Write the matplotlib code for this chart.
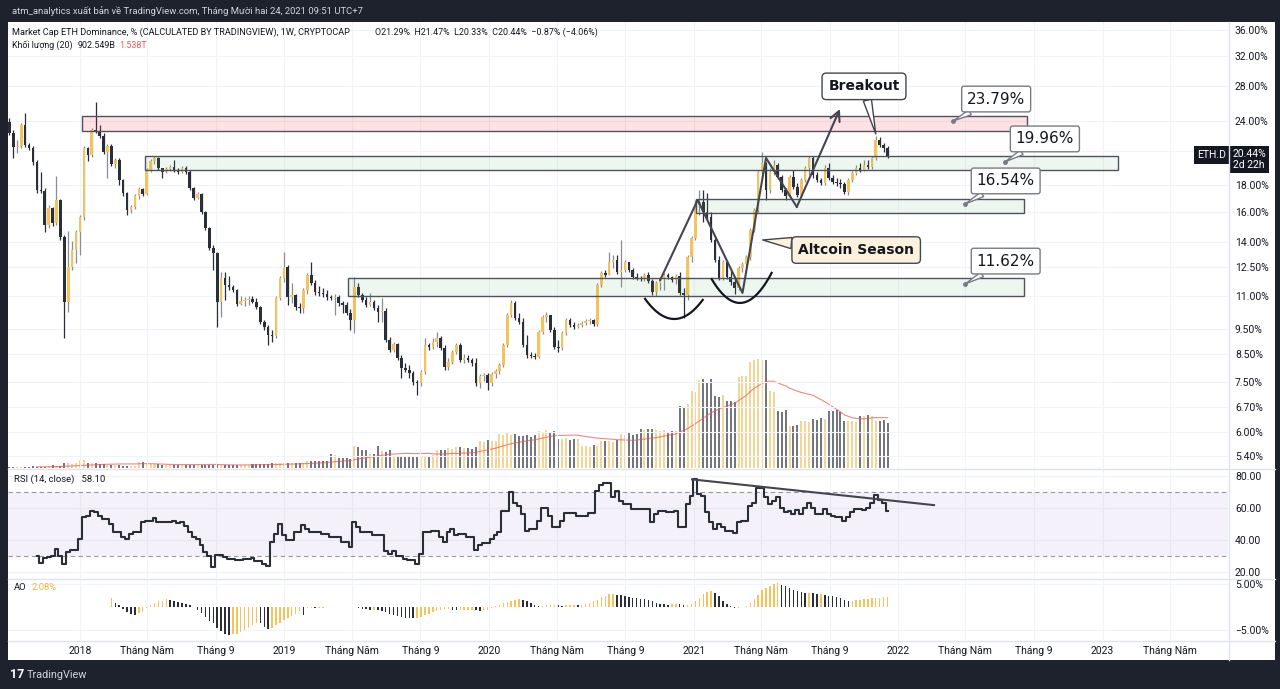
import matplotlib
matplotlib.use('Agg')
import matplotlib.pyplot as plt
import matplotlib.dates as mdates
import matplotlib.transforms as mtransforms
from matplotlib.patches import Rectangle
from matplotlib.lines import Line2D
import numpy as np
import pandas as pd

# ---------------- data (weekly ETH dominance, %) ----------------
first_week = '2017-08-28'
first_open = 23.89
closes = [
    22.75, 21.37, 21.47, 23.58, 21.57, 21.27, 19.99, 17.64, 17.56, 15.10,
    16.29, 15.23, 16.87, 14.31, 10.71, 12.52, 13.50, 14.63, 15.64, 21.27,
    20.63, 23.05, 22.95, 22.45, 20.90, 21.47, 19.82, 20.17, 18.45, 17.41,
    16.14, 16.36, 17.18, 17.72, 17.33, 19.29, 20.08, 20.35, 19.47, 19.12,
    19.38, 19.56, 19.29, 19.12, 19.47, 19.12, 17.80, 17.03, 17.33, 16.00,
    14.89, 13.62, 13.32, 10.71, 11.92, 11.56, 11.45, 11.30, 10.62, 10.76,
    10.81, 10.86, 10.71, 10.47, 9.79, 9.58, 9.25, 9.21, 10.91, 11.92,
    12.52, 10.96, 11.05, 10.47, 10.42, 11.30, 12.08, 11.66, 11.20, 11.15,
    11.10, 10.96, 10.91, 10.96, 10.67, 10.57, 10.20, 9.88, 11.45, 11.05,
    10.81, 10.57, 10.71, 10.42, 10.24, 10.29, 9.04, 8.65, 8.88, 8.35,
    7.98, 7.91, 7.81, 7.50, 7.47, 7.84, 8.85, 8.77, 8.96, 9.12,
    8.73, 8.02, 8.20, 8.57, 8.85, 8.27, 8.35, 8.27, 8.16, 7.47,
    7.71, 7.74, 7.47, 7.77, 7.88, 8.09, 8.85, 10.11, 10.67, 9.97,
    9.79, 8.85, 8.46, 8.42, 8.39, 9.37, 10.02, 10.11, 9.45, 8.77,
    8.73, 9.33, 9.88, 9.67, 9.58, 9.67, 9.75, 9.84, 9.88, 9.71,
    11.56, 12.19, 12.08, 12.80, 12.91, 12.24, 12.35, 12.80, 12.35, 11.97,
    11.92, 11.86, 12.08, 11.76, 11.20, 11.66, 11.86, 12.08, 11.97, 11.81,
    12.03, 11.15, 11.05, 13.09, 14.25, 16.51, 16.72, 16.00, 15.64, 14.12,
    12.91, 11.92, 12.80, 11.97, 11.71, 11.40, 12.46, 12.69, 13.09, 14.76,
    16.14, 19.12, 19.91, 17.64, 19.12, 19.73, 18.70, 17.64, 17.18, 18.70,
    17.88, 17.26, 18.45, 19.47, 20.35, 18.87, 18.45, 18.20, 19.47, 18.62,
    18.29, 18.20, 18.12, 17.49, 18.45, 19.04, 19.47, 19.29, 19.73, 19.56,
    20.35, 22.05, 21.57, 21.29, 20.44,
]
highs = [
    24.32, 23.05, 22.05, 23.79, 24.87, 21.76, 21.47, 20.17, 19.12, 17.80,
    16.51, 16.36, 18.79, 16.95, 14.44, 14.70, 14.06, 14.76, 15.79, 21.47,
    21.37, 23.26, 26.12, 23.58, 22.75, 21.66, 21.66, 20.35, 20.35, 18.53,
    17.49, 16.51, 17.33, 17.88, 17.80, 19.47, 20.26, 20.53, 20.44, 19.47,
    19.56, 19.73, 20.17, 19.47, 19.64, 19.64, 19.29, 17.88, 17.49, 17.41,
    16.07, 14.96, 13.81, 13.38, 12.24, 12.24, 12.03, 11.56, 11.35, 11.00,
    10.96, 11.00, 11.00, 10.91, 10.52, 9.88, 9.67, 9.45, 11.00, 12.03,
    13.38, 12.63, 11.66, 11.10, 10.67, 11.40, 12.19, 12.80, 11.81, 11.50,
    11.40, 11.30, 11.05, 11.10, 11.05, 10.76, 10.71, 10.38, 11.97, 11.66,
    11.15, 10.96, 11.15, 10.81, 10.57, 10.91, 10.42, 9.16, 8.96, 8.92,
    8.46, 8.16, 8.09, 7.88, 7.57, 7.91, 9.12, 8.92, 9.12, 9.37,
    9.20, 8.85, 8.35, 8.65, 8.92, 8.92, 8.50, 8.46, 8.35, 8.35,
    7.77, 7.81, 7.81, 7.84, 7.95, 8.16, 8.92, 10.20, 10.81, 10.76,
    10.20, 9.97, 9.25, 8.57, 8.54, 9.45, 10.11, 10.24, 10.11, 9.58,
    9.04, 9.41, 9.97, 9.97, 9.79, 9.75, 9.84, 9.93, 9.97, 9.93,
    11.66, 12.30, 12.35, 13.38, 13.21, 13.21, 14.12, 12.91, 12.69, 12.46,
    12.19, 12.03, 12.19, 12.24, 11.86, 11.76, 11.97, 12.19, 12.19, 12.03,
    12.13, 12.24, 11.40, 13.21, 14.38, 16.87, 17.64, 17.64, 17.41, 16.00,
    14.25, 13.15, 12.91, 12.86, 12.30, 11.92, 12.57, 12.80, 13.21, 14.89,
    16.29, 19.29, 20.90, 19.99, 19.47, 20.17, 19.91, 18.87, 17.80, 18.87,
    19.29, 18.20, 18.62, 19.64, 20.53, 20.53, 19.12, 18.62, 19.73, 19.91,
    18.87, 18.62, 18.53, 18.29, 18.62, 19.21, 19.73, 19.91, 20.17, 20.17,
    20.53, 22.45, 22.35, 21.76, 21.47,
]
lows = [
    22.55, 20.35, 20.81, 21.27, 21.37, 21.08, 19.73, 17.41, 17.41, 14.63,
    14.89, 15.03, 15.10, 14.12, 9.12, 10.24, 12.35, 12.74, 13.21, 15.43,
    20.08, 20.44, 22.75, 22.25, 20.72, 18.62, 19.64, 19.47, 18.04, 17.18,
    15.79, 15.93, 16.22, 16.95, 17.18, 17.26, 19.12, 19.82, 19.29, 18.62,
    19.04, 19.21, 19.12, 18.95, 19.04, 18.95, 17.64, 16.87, 16.95, 15.86,
    14.76, 13.50, 12.35, 9.58, 10.02, 10.81, 11.30, 11.20, 10.52, 10.57,
    10.52, 10.57, 10.67, 10.38, 9.71, 9.45, 8.85, 8.96, 9.12, 10.81,
    11.71, 10.57, 10.67, 10.33, 10.20, 10.20, 11.10, 11.56, 11.05, 11.00,
    10.96, 10.81, 10.81, 10.11, 10.52, 10.20, 10.11, 9.45, 9.33, 10.96,
    10.71, 10.47, 10.52, 10.33, 9.79, 9.79, 8.96, 8.57, 8.57, 8.27,
    7.64, 7.84, 7.64, 7.40, 7.08, 7.37, 7.77, 8.65, 8.69, 8.77,
    8.65, 7.91, 7.91, 8.13, 8.50, 8.20, 8.16, 8.20, 8.05, 7.37,
    7.31, 7.54, 7.24, 7.37, 7.64, 7.77, 8.02, 8.77, 10.02, 9.88,
    9.71, 8.77, 8.35, 8.35, 8.31, 8.35, 9.29, 9.79, 9.37, 8.69,
    8.57, 8.65, 9.25, 9.58, 9.49, 9.54, 9.58, 9.67, 9.71, 9.62,
    9.62, 11.45, 11.97, 12.08, 12.46, 12.13, 11.45, 12.24, 12.24, 11.86,
    11.81, 11.76, 11.76, 11.66, 11.05, 11.00, 11.30, 11.30, 11.86, 11.71,
    11.61, 11.05, 9.97, 10.81, 12.80, 14.12, 15.79, 15.30, 15.43, 14.00,
    12.80, 11.81, 11.81, 11.86, 11.56, 11.10, 11.30, 12.24, 12.46, 12.91,
    14.63, 16.00, 18.95, 16.87, 17.41, 18.87, 18.53, 17.49, 16.87, 17.03,
    17.72, 17.10, 17.10, 18.29, 18.87, 18.62, 18.29, 18.04, 18.04, 18.45,
    18.12, 17.96, 17.80, 17.33, 17.26, 18.29, 18.87, 19.12, 19.21, 19.38,
    19.38, 20.17, 21.37, 20.90, 20.33,
]
# volume, billions
volume_b = [
    35, 40, 30, 45, 38, 42, 50, 36, 44, 40, 55,
    95, 60, 70,
    150, 170, 140, 175,
    250, 270,
    180, 150, 165, 140,
    120, 105, 110, 95, 100,
    70, 65, 75, 80,
    190, 210, 170,
    130, 120, 135,
    95, 100, 90, 105, 100, 85, 95, 100, 110, 100, 95, 105, 110, 115,
    120, 100, 95, 105, 100, 95, 100, 90, 105,
    125, 130, 135, 120, 140,
    160, 170, 180, 165, 155, 170, 160, 175, 165,
    230, 220, 240, 225, 235, 230,
    460, 440,
    330, 320, 340, 300,
    720, 700,
    590, 600,
    460, 470,
    720,
    560, 540, 580,
    400, 410,
    360, 350, 370, 365, 355, 360, 370, 380,
    430, 590, 600, 580,
    660, 640, 680, 700, 650, 670, 620, 680,
    890, 870, 920, 900, 880,
    1120, 1100, 1150, 1080, 1130,
    1060, 1050, 1080, 1020, 1090,
    1220, 1200, 1250, 1180, 1210,
    960, 950, 980, 940, 970, 960,
    730, 720, 700, 750, 710,
    890, 900, 880, 870, 910,
    1120, 1100, 1150, 1090, 1130,
    1290, 1270, 1300, 1280, 1260,
    1220, 1240, 1200, 1230, 1210,
    2050, 2000, 2100,
    2550, 2500,
    2900, 2950, 2850, 2930,
    2380, 2350, 2400,
    2200, 2220, 2180,
    3000, 3050, 3020,
    3500, 3550,
    3600, 3580, 3550,
    2550, 2500,
    1880, 1850, 1900,
    1400, 1380, 1420,
    1550, 1560, 1530,
    1620, 1600, 1640, 1610,
    1880, 1870, 1900, 1860,
    1550, 1540, 1560, 1530,
    1720, 1700, 1740, 1710,
    1560, 1540, 1580, 1500,
]
rsi_start = '2017-10-16'
rsi = [
    29.7, 25.6, 28.9, 29.3, 29.7, 34.5, 29.7, 25.2, 32.4, 33.9,
    33.9, 40.7, 54.6, 55.2, 57.9, 57.2, 55.2, 53.1, 53.1, 50.0,
    44.8, 44.8, 41.7, 40.7, 43.8, 44.8, 44.8, 51.0, 52.1, 52.1,
    53.5, 51.0, 51.0, 51.0, 51.0, 51.7, 50.4, 51.0, 49.0, 44.8,
    42.1, 40.7, 36.6, 32.4, 29.7, 23.1, 30.3, 30.3, 29.3, 28.3,
    28.3, 27.2, 27.2, 28.3, 28.3, 28.9, 26.8, 26.8, 25.2, 23.5,
    38.6, 43.8, 50.0, 42.8, 39.7, 39.7, 44.8, 44.8, 49.6, 46.9,
    45.2, 45.2, 45.2, 43.8, 43.8, 42.1, 42.1, 42.1, 38.6, 38.6,
    35.9, 51.0, 47.9, 44.8, 44.8, 44.8, 43.4, 43.4, 43.4, 33.4,
    31.4, 33.4, 29.7, 29.7, 28.3, 27.2, 27.2, 25.2, 31.4, 44.8,
    44.8, 45.9, 45.9, 41.7, 38.6, 44.8, 46.9, 42.8, 43.8, 43.8,
    42.1, 42.1, 33.9, 36.6, 38.0, 38.0, 40.7, 42.8, 44.8, 57.9,
    57.9, 69.7, 63.4, 61.4, 56.2, 45.9, 46.9, 46.9, 52.1, 60.3,
    60.3, 55.2, 48.3, 48.3, 52.1, 56.6, 56.6, 56.6, 55.2, 55.2,
    55.2, 56.6, 56.6, 70.7, 74.4, 75.9, 75.9, 66.6, 70.7, 64.1,
    62.4, 62.4, 59.3, 59.3, 59.3, 59.3, 59.3, 51.0, 56.2, 58.3,
    58.3, 57.2, 57.2, 58.3, 47.9, 47.9, 62.4, 67.6, 77.9, 68.6,
    67.6, 57.2, 51.0, 46.9, 50.0, 48.3, 45.9, 45.9, 44.2, 51.0,
    52.1, 52.1, 61.4, 63.4, 72.8, 72.8, 66.6, 62.8, 64.5, 66.6,
    60.3, 57.2, 58.3, 56.2, 58.7, 56.2, 59.9, 63.4, 60.3, 56.2,
    56.2, 59.3, 56.2, 55.2, 54.1, 54.1, 52.1, 54.6, 57.2, 59.3,
    59.3, 58.7, 60.3, 63.4, 68.2, 64.9, 63.4, 58.1,
]
ao_start = '2018-02-26'
ao = [
    1.9, 0.8, 0.5, -0.5, -1.1, -1.5, -1.7, -1.3, -1.0, -0.3,
    0.4, 0.9, 1.3, 1.4, 1.7, 1.6, 1.3, 1.1, 0.9, 0.7,
    0.4, 0.1, -0.6, -1.3, -2.2, -3.0, -3.6, -4.5, -5.2, -5.8,
    -6.1, -6.0, -5.8, -5.5, -5.0, -4.5, -3.9, -3.4, -3.6, -4.3,
    -4.8, -4.5, -4.0, -3.5, -2.9, -2.4, -2.0, -1.5, -0.8, -1.7,
    -0.3, -0.2, -0.3, -0.2, -0.2, -0.1, 0.1, 0.1, 0.1, 0.05,
    -0.1, -0.1, -0.1, -0.3, -0.4, -0.5, -0.6, -0.6, -0.7, -0.9,
    -1.2, -1.5, -1.8, -2.0, -2.2, -2.3, -2.4, -2.5, -2.4, -2.1,
    -1.8, -1.5, -1.2, -0.9, -0.7, -0.5, -0.4, -0.6, -0.7, -0.6,
    -0.6, -0.6, -0.6, -0.7, -0.8, -0.7, -0.6, -0.3, 0.2, 0.5,
    0.8, 1.1, 1.3, 1.5, 1.7, 1.6, 1.4, 0.8, 0.4, 0.3,
    0.3, 0.4, 0.5, 0.5, 0.4, 0.3, 0.4, 0.5, 0.5, 0.4,
    0.5, 0.7, 0.9, 1.2, 1.6, 2.1, 2.5, 2.8, 2.9, 2.7,
    2.6, 2.4, 2.2, 2.0, 1.9, 1.8, 1.7, 1.5, 1.2, 0.9,
    0.7, 0.6, 0.5, 0.6, 0.7, 0.6, 0.5, 0.5, 0.7, 1.3,
    2.0, 2.8, 3.3, 3.4, 3.1, 2.4, 1.2, 0.6, 0.2, -0.3,
    -0.2, -0.1, 0.2, 0.8, 1.7, 2.7, 3.6, 4.2, 4.6, 5.0,
    5.3, 4.9, 4.5, 4.1, 3.8, 3.5, 3.3, 3.1, 3.1, 3.0,
    2.9, 2.9, 2.7, 2.5, 2.3, 2.1, 1.9, 1.6, 1.35, 1.4,
    1.5, 1.6, 1.7, 1.8, 1.9, 2.0, 2.05, 2.07, 2.08,
]
price_ticks = [5.4, 6.0, 6.7, 7.5, 8.5, 9.5, 11, 12.5, 14, 16, 18, 24, 28, 32, 36]
rsi_ticks = [20, 40, 60, 80]
ao_ticks = [-5, 5]
tick_dates = []
tick_labels = []
for yr in range(2018, 2024):
    tick_dates += [f'{yr}-01-01', f'{yr}-05-01', f'{yr}-09-01']
    tick_labels += [str(yr), 'Tháng Năm', 'Tháng 9']
tick_dates, tick_labels = tick_dates[:-1], tick_labels[:-1]

# ---------------- styling ----------------
UP = '#f5c35b'
DN = '#2a2e39'
DARK = '#1e222d'
TXT = '#131722'
GRID = '#f0f3fa'
EDGE = '#50535e'
plt.rcParams['font.family'] = ['Roboto', 'DejaVu Sans']

W, H = 1280, 689


def rect(x0, y0, x1, y1):
    return [x0 / W, 1 - y1 / H, (x1 - x0) / W, (y1 - y0) / H]


def d(s):
    return mdates.datestr2num(s)


fig = plt.figure(figsize=(12.8, 6.89), dpi=100, facecolor=DARK)
fig.patches.append(Rectangle((8 / W, 1 - 660 / H), 1267 / W, 638 / H,
                             transform=fig.transFigure, fc='white', ec='none', zorder=-5))

ax = fig.add_axes(rect(8, 22, 1228, 468))
vol = ax.twinx()
ax.set_zorder(vol.get_zorder() + 1)
ax.patch.set_visible(False)
vol.patch.set_visible(False)
ax_rsi = fig.add_axes(rect(8, 469, 1228, 578), sharex=ax)
ax_ao = fig.add_axes(rect(8, 579, 1228, 640), sharex=ax)
for a in (ax, vol, ax_rsi, ax_ao):
    a.set_facecolor('none')
    for s in a.spines.values():
        s.set_visible(False)

dates = pd.date_range(first_week, periods=len(closes), freq='7D')
x = mdates.date2num(dates)
c = np.array(closes)
o = np.array([first_open] + closes[:-1])
hi = np.array(highs)
lo = np.array(lows)
up = c >= o
body_lo = np.minimum(o, c)
body_hi = np.maximum(o, c)
body_h = np.maximum(body_hi - body_lo, body_lo * 0.005)

x0 = d('2018-01-01') - 128.6
x1 = d('2018-01-01') + 2050
ax.set_xlim(x0, x1)

# candles
ax.vlines(x, np.minimum(lo, body_lo), np.maximum(hi, body_hi),
          colors=np.where(up, '#8a8d96', DN), lw=0.9, zorder=4)
ax.bar(x, body_h, bottom=body_lo, width=4.6, color=np.where(up, UP, DN),
       linewidth=0, zorder=5)
ax.set_yscale('log')
ax.set_ylim(5.11, 37.3)
ax.yaxis.tick_right()
ax.yaxis.set_minor_locator(matplotlib.ticker.NullLocator())
ax.set_yticks(price_ticks)
ax.set_yticklabels([f'{v:.2f}%' for v in price_ticks])
ax.tick_params(axis='y', length=0, pad=5, labelsize=7.5, labelcolor=TXT)
ax.tick_params(axis='x', length=0, labelbottom=False)
ax.grid(True, color=GRID, lw=0.8, zorder=0)
ax.axhline(21, color=GRID, lw=0.8, zorder=0)

# volume
vb = np.array(volume_b, dtype=float)
vol.bar(x, vb, width=3.6, color=np.where(up, '#f3d48e', '#6b6e78'), linewidth=0, alpha=0.95)
vma = pd.Series(vb).rolling(20, min_periods=8).mean()
vol.plot(x, vma, color='#ef5350', lw=0.8, alpha=0.7)
vol.set_ylim(0, 446 * 33)
vol.set_yticks([])
vol.tick_params(length=0)

# zones
zones = [
    ('2018-01-04', '2022-08-19', 22.95, 24.52, '#f23645', 0.15),
    ('2018-04-27', '2023-01-29', 19.29, 20.53, '#4caf50', 0.09),
    ('2021-01-05', '2022-08-14', 15.93, 16.95, '#4caf50', 0.09),
    ('2019-04-25', '2022-08-14', 11.00, 11.92, '#4caf50', 0.09),
]
for s, e, zlo, zhi, col, al in zones:
    ax.add_patch(Rectangle((d(s), zlo), d(e) - d(s), zhi - zlo, fc=col, alpha=al, ec='none', zorder=6))
    ax.add_patch(Rectangle((d(s), zlo), d(e) - d(s), zhi - zlo, fc='none', ec=EDGE, lw=1, zorder=6))

# zigzag path with arrow
zz = [('2020-11-02', 11.81), ('2021-01-08', 16.87), ('2021-03-29', 11.15),
      ('2021-05-10', 20.35), ('2021-07-04', 16.36), ('2021-09-19', 25.31)]
ax.plot([d(p[0]) for p in zz[:-1]], [p[1] for p in zz[:-1]], color='#434651', lw=1.5, zorder=7)
ax.annotate('', xy=(d(zz[-1][0]), zz[-1][1]), xytext=(d(zz[-2][0]), zz[-2][1]),
            arrowprops=dict(arrowstyle='->,head_length=0.7,head_width=0.35', color='#434651',
                            lw=1.5, shrinkA=0, shrinkB=0), zorder=7)


def arc(p0, p1, p2):
    xs = [d(p[0]) for p in (p0, p1, p2)]
    ys = [np.log(p[1]) for p in (p0, p1, p2)]
    coef = np.polyfit(xs, ys, 2)
    xx = np.linspace(xs[0], xs[2], 60)
    ax.plot(xx, np.exp(np.polyval(coef, xx)), color=TXT, lw=1.6, zorder=7)


arc(('2020-10-06', 10.86), ('2020-11-25', 9.93), ('2021-01-17', 10.81))
arc(('2021-02-02', 11.86), ('2021-03-28', 10.67), ('2021-05-20', 12.19))

# callouts
pct_labels = [
    ('23.79%', ('2022-06-25', 26.46), ('2022-04-09', 23.99)),
    ('19.96%', ('2022-09-20', 22.15), ('2022-07-11', 20.00)),
    ('16.54%', ('2022-07-12', 18.37), ('2022-05-01', 16.58)),
    ('11.62%', ('2022-07-12', 12.85), ('2022-05-01', 11.61)),
]
for txt, (tx, ty), (px_, py_) in pct_labels:
    ax.annotate(txt, xy=(d(px_), py_), xytext=(d(tx), ty), ha='center', va='center',
                fontsize=11, color=TXT, family=['DejaVu Sans'], zorder=9,
                bbox=dict(boxstyle='round,pad=0.35,rounding_size=0.15', fc='white', ec='#787b86', lw=1),
                arrowprops=dict(arrowstyle='wedge,tail_width=0.35', fc='white', ec='#787b86', lw=1,
                                shrinkA=0, shrinkB=0))
    ax.plot(d(px_), py_, 'o', ms=2.5, color='#787b86', zorder=9)

ax.annotate('Breakout', xy=(d('2021-11-22'), 22.65), xytext=(d('2021-11-01'), 28.0),
            ha='center', va='center', fontsize=10, fontweight='bold', color=TXT,
            family=['DejaVu Sans'], zorder=9,
            bbox=dict(boxstyle='round,pad=0.45,rounding_size=0.3', fc='white', ec='#434651', lw=1),
            arrowprops=dict(arrowstyle='wedge,tail_width=0.6', fc='white', ec='#434651', lw=1,
                            shrinkA=0, shrinkB=0))
ax.annotate('Altcoin Season', xy=(d('2021-05-04'), 14.12), xytext=(d('2021-10-18'), 13.50),
            ha='center', va='center', fontsize=10, fontweight='bold', color=TXT,
            family=['DejaVu Sans'], zorder=9,
            bbox=dict(boxstyle='round,pad=0.45,rounding_size=0.3', fc='#fcf1dc', ec='#434651', lw=1),
            arrowprops=dict(arrowstyle='wedge,tail_width=0.8', fc='#fcf1dc', ec='#434651', lw=1,
                            shrinkA=0, shrinkB=0))

# last price tag
blend = mtransforms.blended_transform_factory(ax.transAxes, ax.transData)
tag = mtransforms.offset_copy(blend, fig=fig, x=0, y=8, units='dots')
ax.text(1.004, c[-1], '20.44%\n2d 22h', transform=tag, ha='left', va='top', fontsize=7.5,
        color='white', linespacing=1.15, clip_on=False, zorder=20,
        bbox=dict(boxstyle='square,pad=0.25', fc=TXT, ec='none'))
ax.text(0.9985, c[-1], 'ETH.D', transform=mtransforms.offset_copy(blend, fig=fig, x=0, y=2, units='dots'),
        ha='right', va='center', fontsize=7.5, color='white', clip_on=False, zorder=20,
        bbox=dict(boxstyle='square,pad=0.35', fc=TXT, ec='none'))

# RSI panel
rx = mdates.date2num(pd.date_range(rsi_start, periods=len(rsi), freq='7D'))
ax_rsi.axhspan(30, 70, color='#7e57c2', alpha=0.08, lw=0)
ax_rsi.axhline(70, color='#9598a1', lw=0.8, ls=(0, (4, 3)))
ax_rsi.axhline(30, color='#9598a1', lw=0.8, ls=(0, (4, 3)))
ax_rsi.plot(rx, rsi, drawstyle='steps-mid', color=DN, lw=1.5)
ax_rsi.plot([d('2020-12-29'), d('2022-03-06')], [77.9, 61.8], color='#434651', lw=1.5)
ax_rsi.set_ylim(16.2, 84.4)
ax_rsi.yaxis.tick_right()
ax_rsi.set_yticks(rsi_ticks)
ax_rsi.set_yticklabels([f'{v:.2f}' for v in rsi_ticks])
ax_rsi.tick_params(axis='y', length=0, pad=5, labelsize=7.5, labelcolor=TXT)
ax_rsi.tick_params(axis='x', length=0, labelbottom=False)
ax_rsi.grid(True, color=GRID, lw=0.8)
ax_rsi.set_axisbelow(True)

# AO panel
axo = mdates.date2num(pd.date_range(ao_start, periods=len(ao), freq='7D'))
aov = np.array(ao)
rising = np.r_[True, np.diff(aov) >= 0]
ax_ao.bar(axo, aov, width=2.6, color=np.where(rising, UP, DN), linewidth=0)
ax_ao.set_ylim(-7.2, 6.1)
ax_ao.yaxis.tick_right()
ax_ao.set_yticks(ao_ticks)
ax_ao.set_yticklabels(['\u22125.00%', '5.00%'])
ax_ao.tick_params(axis='y', length=0, pad=5, labelsize=7.5, labelcolor=TXT)
ax_ao.set_xticks([d(t) for t in tick_dates])
ax_ao.set_xticklabels(tick_labels)
ax_ao.tick_params(axis='x', length=0, pad=4, labelsize=7.5, labelcolor=TXT)
ax_ao.grid(True, color=GRID, lw=0.8)
ax_ao.set_axisbelow(True)
ax.grid(True, axis='x', color=GRID, lw=0.8)

# separators
for yy in (468.5, 578.5, 640.5):
    fig.add_artist(Line2D([8 / W, 1275 / W], [1 - yy / H] * 2, transform=fig.transFigure,
                          color='#e0e3eb', lw=1))
fig.add_artist(Line2D([1228.5 / W] * 2, [1 - 22 / H, 1 - 660 / H], transform=fig.transFigure,
                      color='#e0e3eb', lw=1))

# texts


def ftext(px, py, s, **kw):
    return fig.text(px / W, 1 - py / H, s, va='center', ha='left', **kw)


def after(t, gap):
    # pixel x just right of a placed text
    fig.canvas.draw()
    return t.get_window_extent().x1 + gap


ftext(12, 11, 'atm_analytics xuất bản về TradingView.com, Tháng Mười hai 24, 2021 09:51 UTC+7',
      fontsize=6.8, color='#d1d4dc')
ftext(12, 32, 'Market Cap ETH Dominance, % (CALCULATED BY TRADINGVIEW), 1W, CRYPTOCAP',
      fontsize=6.6, color=TXT)
ftext(375, 32, 'O21.29%  H21.47%  L20.33%  C20.44%  \u22120.87% (\u22124.06%)',
      fontsize=6.4, color=TXT)
t_vol = ftext(12, 45, 'Khối lượng (20)', fontsize=6.4, color=TXT)
t_v2 = ftext(after(t_vol, 5), 45, '902.549B', fontsize=6.4, color=TXT)
ftext(after(t_v2, 4), 45, '1.538T', fontsize=6.4, color='#ef5350')
ftext(14, 479, 'RSI (14, close)   58.10', fontsize=6.8, color=TXT)
t_ao = ftext(14, 588, 'AO', fontsize=6.8, color=TXT)
ftext(after(t_ao, 5), 588, '2.08%', fontsize=6.8, color='#f0b43c')
ftext(10, 675, '17', fontsize=9, fontweight='bold', color='white')
ftext(27, 675, 'TradingView', fontsize=7.8, color='#d1d4dc')

fig.savefig('out.png', dpi=100, facecolor=DARK)
